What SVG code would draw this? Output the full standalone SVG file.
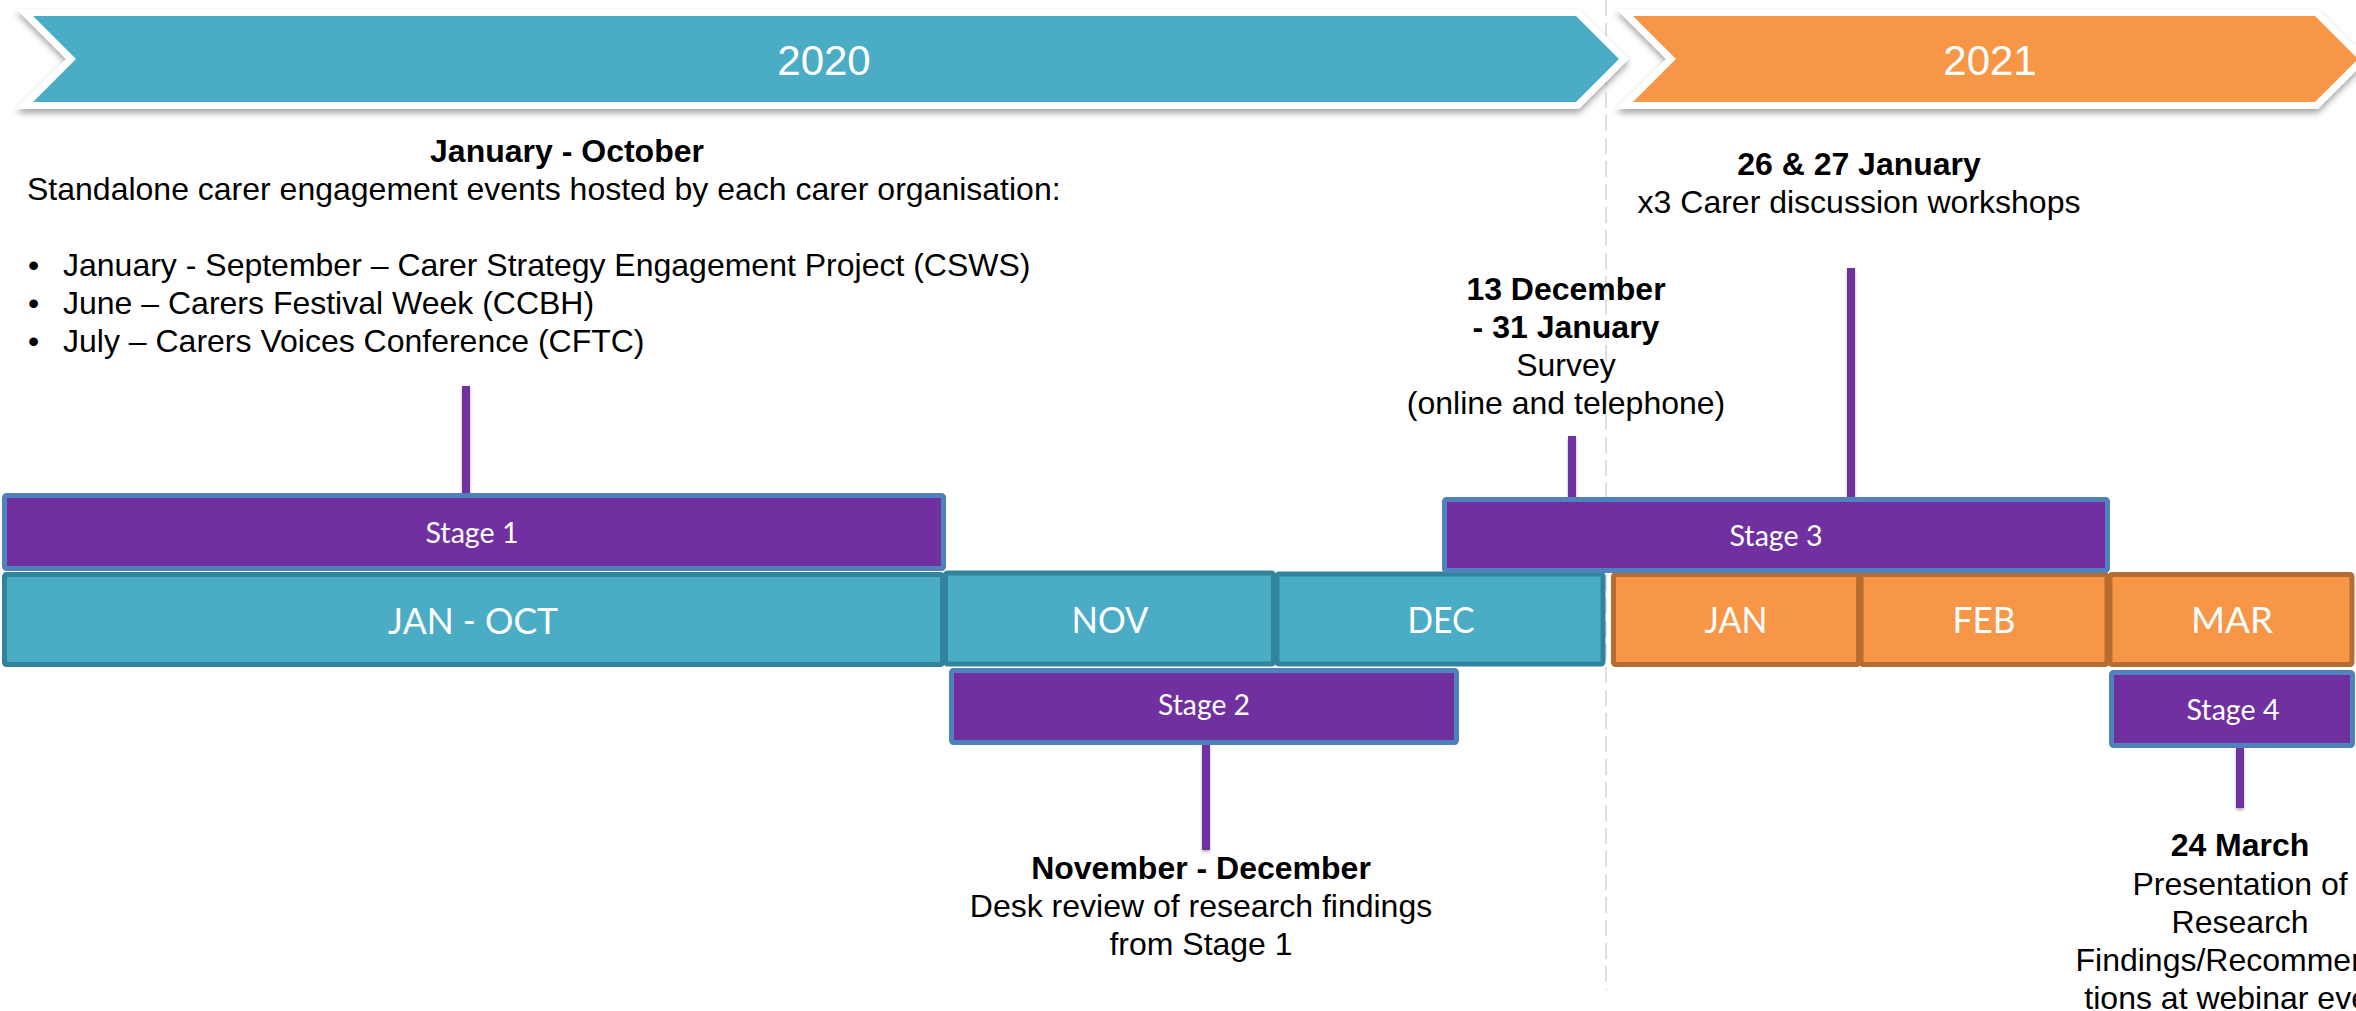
<svg xmlns="http://www.w3.org/2000/svg" width="2356" height="1011" viewBox="0 0 2356 1011">
  <defs>
    <filter id="bannerShadow" x="-5%" y="-30%" width="110%" height="170%">
      <feDropShadow dx="0" dy="4" stdDeviation="3" flood-color="#000" flood-opacity="0.35"/>
    </filter>
    <filter id="stemShadow" x="-100%" y="-20%" width="300%" height="140%">
      <feDropShadow dx="0" dy="2" stdDeviation="1.5" flood-color="#000" flood-opacity="0.3"/>
    </filter>
    <style>
      .note { font-family: "Liberation Sans", Arial, sans-serif; font-size: 32px; fill: #000; }
      .bold { font-weight: bold; }
      .mid { text-anchor: middle; }
      .year { font-family: "Liberation Sans", Arial, sans-serif; font-size: 42px; fill: #fff; text-anchor: middle; }
      .month { font-family: Lato, "Open Sans", sans-serif; font-size: 36px; fill: #fff; text-anchor: middle; }
      .stageLbl { font-family: Lato, "Open Sans", sans-serif; font-size: 28px; fill: #fff; text-anchor: middle; }
      .stage { fill: #7030a0; stroke: #4f81bd; stroke-width: 5; }
      .m2020 { fill: #4bacc6; stroke: #31849b; stroke-width: 5; }
      .m2021 { fill: #f79646; stroke: #b66d31; stroke-width: 5; }
      .stem { fill: #7030a0; }
      .divider { stroke: #e2dfd2; stroke-width: 2; stroke-dasharray: 16 7; fill: none; }
    </style>
  </defs>

  <rect x="0" y="0" width="2356" height="1011" fill="#fff"/>

  <!-- year boundary -->
  <line class="divider" x1="1606" y1="0" x2="1606" y2="990"/>

  <!-- year banners -->
  <g id="banner-2020">
    <path d="M33,16 L1576,16 L1619,59 L1576,102 L33,102 L76,59 Z" fill="#4bacc6" stroke="#fff" stroke-width="14" stroke-linejoin="miter" filter="url(#bannerShadow)"/>
    <path d="M33,16 L1576,16 L1619,59 L1576,102 L33,102 L76,59 Z" fill="#4bacc6"/>
    <text class="year" x="824" y="75">2020</text>
  </g>
  <g id="banner-2021">
    <path d="M1633,16 L2315,16 L2358,59 L2315,102 L1633,102 L1676,59 Z" fill="#f79646" stroke="#fff" stroke-width="14" stroke-linejoin="miter" filter="url(#bannerShadow)"/>
    <path d="M1633,16 L2315,16 L2358,59 L2315,102 L1633,102 L1676,59 Z" fill="#f79646"/>
    <text class="year" x="1990" y="75">2021</text>
  </g>

  <!-- stems joining notes to stage bars -->
  <g id="connectors" filter="url(#stemShadow)">
    <rect class="stem" x="462" y="386" width="8" height="108"/>
    <rect class="stem" x="1568" y="436" width="8" height="62"/>
    <rect class="stem" x="1847" y="268" width="8" height="230"/>
    <rect class="stem" x="1202" y="745" width="8" height="105"/>
    <rect class="stem" x="2236" y="748" width="8" height="60"/>
  </g>

  <!-- month bar -->
  <g id="month-jan-oct">
    <rect class="m2020" x="4.5" y="574.5" width="938" height="90" rx="2"/>
    <text class="month" x="473" y="634" textLength="170" lengthAdjust="spacingAndGlyphs">JAN - OCT</text>
  </g>
  <g id="month-nov">
    <rect class="m2020" x="945.5" y="573" width="328" height="91" rx="2"/>
    <text class="month" x="1110" y="633" textLength="77" lengthAdjust="spacingAndGlyphs">NOV</text>
  </g>
  <g id="month-dec">
    <rect class="m2020" x="1277" y="574" width="326" height="90" rx="2"/>
    <text class="month" x="1441" y="633" textLength="67" lengthAdjust="spacingAndGlyphs">DEC</text>
  </g>
  <g id="month-jan">
    <rect class="m2021" x="1613.5" y="574.5" width="245" height="90" rx="2"/>
    <text class="month" x="1736" y="633" textLength="63" lengthAdjust="spacingAndGlyphs">JAN</text>
  </g>
  <g id="month-feb">
    <rect class="m2021" x="1861" y="574.5" width="246" height="90" rx="2"/>
    <text class="month" x="1984" y="633" textLength="63" lengthAdjust="spacingAndGlyphs">FEB</text>
  </g>
  <g id="month-mar">
    <rect class="m2021" x="2110" y="574.5" width="242" height="90" rx="2"/>
    <text class="month" x="2232" y="633" textLength="82" lengthAdjust="spacingAndGlyphs">MAR</text>
  </g>

  <!-- stage bars -->
  <g id="stage-1">
    <rect class="stage" x="4.5" y="495.5" width="939" height="73" rx="2"/>
    <text class="stageLbl" x="472" y="543" textLength="93" lengthAdjust="spacingAndGlyphs">Stage 1</text>
  </g>
  <g id="stage-3">
    <rect class="stage" x="1444.5" y="499.5" width="663" height="71" rx="2"/>
    <text class="stageLbl" x="1776" y="546" textLength="93" lengthAdjust="spacingAndGlyphs">Stage 3</text>
  </g>
  <g id="stage-2">
    <rect class="stage" x="951.5" y="670.5" width="505" height="72" rx="2"/>
    <text class="stageLbl" x="1204" y="715" textLength="92" lengthAdjust="spacingAndGlyphs">Stage 2</text>
  </g>
  <g id="stage-4">
    <rect class="stage" x="2111.5" y="672.5" width="241" height="73" rx="2"/>
    <text class="stageLbl" x="2233" y="720" textLength="93" lengthAdjust="spacingAndGlyphs">Stage 4</text>
  </g>

  <!-- notes -->
  <g id="note-jan-oct" class="note">
    <text class="bold mid" x="567" y="162">January - October</text>
    <text x="27" y="200">Standalone carer engagement events hosted by each carer organisation:</text>
    <text x="28" y="276">•</text>
    <text x="63" y="276">January - September – Carer Strategy Engagement Project (CSWS)</text>
    <text x="28" y="314">•</text>
    <text x="63" y="314">June – Carers Festival Week (CCBH)</text>
    <text x="28" y="352">•</text>
    <text x="63" y="352">July – Carers Voices Conference (CFTC)</text>
  </g>

  <g id="note-survey" class="note">
    <text class="bold mid" x="1566" y="300">13 December</text>
    <text class="bold mid" x="1566" y="338">- 31 January</text>
    <text class="mid" x="1566" y="376">Survey</text>
    <text class="mid" x="1566" y="414">(online and telephone)</text>
  </g>

  <g id="note-workshops" class="note">
    <text class="bold mid" x="1859" y="175">26 &amp; 27 January</text>
    <text class="mid" x="1859" y="213">x3 Carer discussion workshops</text>
  </g>

  <g id="note-desk-review" class="note">
    <text class="bold mid" x="1201" y="879">November - December</text>
    <text class="mid" x="1201" y="917">Desk review of research findings</text>
    <text class="mid" x="1201" y="955">from Stage 1</text>
  </g>

  <g id="note-presentation" class="note">
    <text class="bold mid" x="2240" y="856">24 March</text>
    <text class="mid" x="2240" y="895">Presentation of</text>
    <text class="mid" x="2240" y="933">Research</text>
    <text class="mid" x="2240" y="971">Findings/Recommenda</text>
    <text class="mid" x="2240" y="1009">tions at webinar event</text>
  </g>
</svg>
